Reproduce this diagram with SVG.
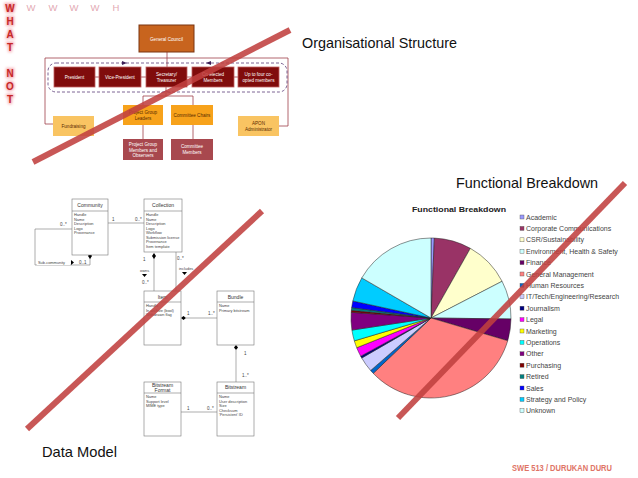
<svg xmlns="http://www.w3.org/2000/svg" width="638" height="478" viewBox="0 0 638 478">
<defs>
<style>
.lt{font-family:"Liberation Sans",Arial,sans-serif;font-weight:bold;fill:#c62828;font-size:10px;text-anchor:middle}
.lt2{font-family:"Liberation Sans",Arial,sans-serif;fill:#e3aab4;font-size:9.5px;text-anchor:middle}
.hd{font-family:"Liberation Sans",Arial,sans-serif;font-size:15px;fill:#111}
.ob{stroke-width:0.8}
.ot{font-family:"Liberation Sans",Arial,sans-serif;font-size:4.6px;text-anchor:middle;fill:#fff}
.otd{font-family:"Liberation Sans",Arial,sans-serif;font-size:4.6px;text-anchor:middle;fill:#5a2a00}
.cl{fill:none;stroke:#a0404a;stroke-width:0.8}
.ub{fill:#fff;stroke:#777;stroke-width:0.6}
.ut{font-family:"Liberation Sans",Arial,sans-serif;font-size:5px;text-anchor:middle;fill:#333}
.ua{font-family:"Liberation Sans",Arial,sans-serif;font-size:3.9px;fill:#444}
.ul{fill:none;stroke:#777;stroke-width:0.6}
.um{font-family:"Liberation Sans",Arial,sans-serif;font-size:4.5px;fill:#444}
.pie path{stroke:#222;stroke-width:0.5}
.lg{font-family:"Liberation Sans",Arial,sans-serif;font-size:7px;fill:#444}
.lgs{stroke:#555;stroke-width:0.4}
.strike{stroke:#c0403f;stroke-width:6;stroke-opacity:0.88}
</style>
<filter id="glow" x="-50%" y="-50%" width="200%" height="200%">
<feGaussianBlur stdDeviation="1.5"/>
</filter>
</defs>
<rect width="638" height="478" fill="#fff"/>

<g id="side-letters">
<g fill="#f4a0a8" filter="url(#glow)" font-family="Liberation Sans, Arial, sans-serif" font-size="10" font-weight="bold" text-anchor="middle" stroke="#f4a0a8" stroke-width="2">
<text x="10" y="11.5">W</text><text x="10" y="24.5">H</text><text x="10" y="37.5">A</text><text x="10" y="50.5">T</text>
<text x="10" y="76.5">N</text><text x="10" y="89.5">O</text><text x="10" y="102.5">T</text>
</g>
<text class="lt" x="10" y="11.5">W</text><text class="lt" x="10" y="24.5">H</text><text class="lt" x="10" y="37.5">A</text><text class="lt" x="10" y="50.5">T</text>
<text class="lt" x="10" y="76.5">N</text><text class="lt" x="10" y="89.5">O</text><text class="lt" x="10" y="102.5">T</text>
<text class="lt2" x="31" y="11">W</text><text class="lt2" x="53" y="11">W</text><text class="lt2" x="74" y="11">W</text><text class="lt2" x="95" y="11">W</text><text class="lt2" x="116" y="11">H</text>
</g>

<text class="hd" x="302" y="48" textLength="155" lengthAdjust="spacingAndGlyphs">Organisational Structure</text>
<text class="hd" x="456" y="188" textLength="142" lengthAdjust="spacingAndGlyphs">Functional Breakdown</text>
<text class="hd" x="42" y="457" textLength="75" lengthAdjust="spacingAndGlyphs">Data Model</text>
<text x="512" y="471" font-family="Liberation Sans, Arial, sans-serif" font-size="8.6" font-weight="bold" fill="#e07466" textLength="100" lengthAdjust="spacingAndGlyphs">SWE 513 / DURUKAN DURU</text>

<!-- Organisational chart -->
<g id="org-connectors">
<path class="cl" d="M53,124 H45 V58 H288 V126 H279"/>
<line class="cl" x1="167" y1="52" x2="167" y2="67"/>
<rect x="48" y="63" width="239" height="29" rx="8" fill="none" stroke="#5c3c78" stroke-width="0.8" stroke-dasharray="3,2"/>
<path d="M122,61 L127,63 L122,65 Z" fill="#3c2058"/>
<path d="M211,61 L206,63 L211,65 Z" fill="#3c2058"/>
<line class="cl" x1="95" y1="77" x2="99" y2="77"/>
<line class="cl" x1="141" y1="77" x2="146" y2="77"/>
<line class="cl" x1="187" y1="77" x2="192" y2="77"/>
<line class="cl" x1="234" y1="77" x2="238" y2="77"/>
<line class="cl" x1="166" y1="87" x2="166" y2="96"/>
<path d="M161,93 L166,91 L171,93" fill="none" stroke="#7a5aa0" stroke-width="0.8"/>
<path class="cl" d="M143,105 V96 H193 V105"/>
<line class="cl" x1="143" y1="125" x2="143" y2="139"/>
<line class="cl" x1="193" y1="125" x2="193" y2="139"/>
</g>
<g id="general-council"><rect x="139" y="25" width="55" height="27" fill="#c8641e" stroke="#7a3410" stroke-width="1"/><text class="ot" x="166.5" y="40.5" font-size="5.6">General Council</text></g>
<g id="president"><rect x="54" y="67" width="41" height="20" fill="#800c0c" stroke="#c06060" class="ob"/><text class="ot" x="74.5" y="78.5">President</text></g>
<g id="vice-president"><rect x="99" y="67" width="42" height="20" fill="#800c0c" stroke="#c06060" class="ob"/><text class="ot" x="120" y="78.5">Vice-President</text></g>
<g id="secretary"><rect x="146" y="67" width="41" height="20" fill="#800c0c" stroke="#c06060" class="ob"/><text class="ot" x="166.5" y="76">Secretary/</text><text class="ot" x="166.5" y="82">Treasurer</text></g>
<g id="co-elected"><rect x="192" y="67" width="42" height="20" fill="#800c0c" stroke="#c06060" class="ob"/><text class="ot" x="213" y="76">Co-elected</text><text class="ot" x="213" y="82">Members</text></g>
<g id="co-opted"><rect x="238" y="67" width="41" height="20" fill="#800c0c" stroke="#c06060" class="ob"/><text class="ot" x="258.5" y="76">Up to four co-</text><text class="ot" x="258.5" y="82">opted members</text></g>
<g id="project-group-leaders"><rect x="123" y="105" width="40" height="20" fill="#f7a21b"/><text class="otd" x="143" y="114">Project Group</text><text class="otd" x="143" y="120">Leaders</text></g>
<g id="committee-chairs"><rect x="171" y="105" width="42" height="20" fill="#f7a21b"/><text class="otd" x="192" y="116.5">Committee Chairs</text></g>
<g id="fundraising"><rect x="53" y="116" width="41" height="20" fill="#f9c462"/><text class="otd" x="73.5" y="127.5">Fundraising</text></g>
<g id="apon-administrator"><rect x="238" y="116" width="41" height="20" fill="#f9c462"/><text class="otd" x="258.5" y="125">APON</text><text class="otd" x="258.5" y="131">Administrator</text></g>
<g id="project-group-members"><rect x="123" y="139" width="40" height="21" fill="#a8484e"/><text class="ot" x="143" y="146">Project Group</text><text class="ot" x="143" y="151.5">Members and</text><text class="ot" x="143" y="157">Observers</text></g>
<g id="committee-members"><rect x="171" y="139" width="42" height="21" fill="#a8484e"/><text class="ot" x="192" y="148">Committee</text><text class="ot" x="192" y="154">Members</text></g>

<!-- Data model -->
<g id="uml-connectors">
<line class="ul" x1="108" y1="223" x2="144" y2="223"/>
<text class="um" x="112" y="221">1</text><text class="um" x="135" y="221">0..*</text>
<path class="ul" d="M72,229 H35 V265 H90 V258"/>
<path d="M90,253 L92,256 L90,259 L88,256 Z" fill="#000"/>
<text class="um" x="60" y="226">0..*</text>
<rect x="37" y="260" width="33" height="5" fill="#fff"/>
<text class="ua" x="38" y="264" font-size="4">Sub-community</text>
<path d="M71,260 L74,262.5 L71,265 Z" fill="#000"/>
<text class="um" x="79" y="264">0..1</text>
<path class="ul" d="M154,258 V291"/>
<path d="M154,253 L156,256 L154,259 L152,256 Z" fill="#000"/>
<text class="um" x="143" y="261">1</text>
<path class="ul" d="M176,252 V291"/>
<text class="um" x="177" y="260">0..*</text>
<text class="ua" x="140" y="272">owns</text>
<path d="M142,274 L147,274 L144.5,277 Z" fill="#000"/>
<text class="um" x="142" y="284">0..*</text>
<text class="ua" x="179" y="270">includes</text>
<path d="M182,272 L187,272 L184.5,275 Z" fill="#000"/>
<line class="ul" x1="186" y1="318" x2="217" y2="318"/>
<path d="M181,318 L183.5,316 L186,318 L183.5,320 Z" fill="#000"/>
<text class="um" x="187" y="315">1</text><text class="um" x="208" y="315">1..*</text>
<line class="ul" x1="236" y1="350" x2="236" y2="382"/>
<path d="M236,345 L238,347.5 L236,350 L234,347.5 Z" fill="#000"/>
<text class="um" x="244" y="355">1</text><text class="um" x="242" y="377">1..*</text>
<line class="ul" x1="181" y1="412" x2="217" y2="412"/>
<text class="um" x="187" y="410">1</text><text class="um" x="207" y="410">0..*</text>
</g>
<g id="community"><rect class="ub" x="72" y="199" width="36" height="56"/><line class="ul" x1="72" y1="211" x2="108" y2="211"/><text class="ut" x="90" y="207">Community</text>
<text class="ua" x="74" y="216">Handle</text><text class="ua" x="74" y="220.5">Name</text><text class="ua" x="74" y="225">Description</text><text class="ua" x="74" y="229.5">Logo</text><text class="ua" x="74" y="234">Provenance</text></g>
<g id="collection"><rect class="ub" x="144" y="199" width="38" height="53"/><line class="ul" x1="144" y1="211" x2="182" y2="211"/><text class="ut" x="163" y="207">Collection</text>
<text class="ua" x="146" y="216">Handle</text><text class="ua" x="146" y="220.5">Name</text><text class="ua" x="146" y="225">Description</text><text class="ua" x="146" y="229.5">Logo</text><text class="ua" x="146" y="234">Workflow</text><text class="ua" x="146" y="238.5">Submission license</text><text class="ua" x="146" y="243">Provenance</text><text class="ua" x="146" y="247.5">Item template</text></g>
<g id="item"><rect class="ub" x="144" y="291" width="37" height="54"/><line class="ul" x1="144" y1="302" x2="181" y2="302"/><text class="ut" x="162.5" y="299">Item</text>
<text class="ua" x="146" y="307">Handle</text><text class="ua" x="146" y="311.5">In archive (bool)</text><text class="ua" x="146" y="316">Withdrawn flag</text></g>
<g id="bundle"><rect class="ub" x="217" y="291" width="37" height="54"/><line class="ul" x1="217" y1="302" x2="254" y2="302"/><text class="ut" x="235.5" y="299">Bundle</text>
<text class="ua" x="219" y="307">Name</text><text class="ua" x="219" y="311.5">Primary bitstream</text></g>
<g id="bitstream-format"><rect class="ub" x="144" y="382" width="37" height="54"/><line class="ul" x1="144" y1="393" x2="181" y2="393"/><text class="ut" x="162.5" y="386.5">Bitstream</text><text class="ut" x="162.5" y="391.5">Format</text>
<text class="ua" x="146" y="398">Name</text><text class="ua" x="146" y="402.5">Support level</text><text class="ua" x="146" y="407">MIME type</text></g>
<g id="bitstream"><rect class="ub" x="217" y="382" width="37" height="54"/><line class="ul" x1="217" y1="393" x2="254" y2="393"/><text class="ut" x="235.5" y="389">Bitstream</text>
<text class="ua" x="219" y="398">Name</text><text class="ua" x="219" y="402.5">User description</text><text class="ua" x="219" y="407">Size</text><text class="ua" x="219" y="411.5">Checksum</text><text class="ua" x="219" y="416">'Persistent' ID</text></g>

<!-- Pie chart -->
<g id="pie-chart">
<text x="412" y="212" font-family="Liberation Sans, Arial, sans-serif" font-size="7.6" font-weight="bold" fill="#222" textLength="94" lengthAdjust="spacingAndGlyphs">Functional Breakdown</text>
<g class="pie">
<path d="M431,318 L431,238 A80,80 0 0 1 434.35,238.07 Z" fill="#9999ff"/>
<path d="M431,318 L434.35,238.07 A80,80 0 0 1 470.39,248.37 Z" fill="#993366"/>
<path d="M431,318 L470.39,248.37 A80,80 0 0 1 502.09,281.31 Z" fill="#ffffcc"/>
<path d="M431,318 L502.09,281.31 A80,80 0 0 1 510.99,318.98 Z" fill="#ccffff"/>
<path d="M431,318 L510.99,318.98 A80,80 0 0 1 507.71,340.72 Z" fill="#660066"/>
<path d="M431,318 L507.71,340.72 A80,80 0 0 1 373.23,373.34 Z" fill="#ff8080"/>
<path d="M431,318 L373.23,373.34 A80,80 0 0 1 370.62,370.48 Z" fill="#0066cc"/>
<path d="M431,318 L370.62,370.48 A80,80 0 0 1 361.72,358 Z" fill="#ccccff"/>
<path d="M431,318 L361.72,358 A80,80 0 0 1 360.69,356.17 Z" fill="#000080"/>
<path d="M431,318 L360.69,356.17 A80,80 0 0 1 356.72,347.71 Z" fill="#ff00ff"/>
<path d="M431,318 L356.72,347.71 A80,80 0 0 1 354.33,340.86 Z" fill="#ffff00"/>
<path d="M431,318 L354.33,340.86 A80,80 0 0 1 351.92,330.10 Z" fill="#00ffff"/>
<path d="M431,318 L351.92,330.10 A80,80 0 0 1 351.20,312.28 Z" fill="#800080"/>
<path d="M431,318 L351.20,312.28 A80,80 0 0 1 351.37,310.33 Z" fill="#800000"/>
<path d="M431,318 L351.37,310.33 A80,80 0 0 1 351.68,307.56 Z" fill="#008080"/>
<path d="M431,318 L351.68,307.56 A80,80 0 0 1 352.84,300.96 Z" fill="#0000ff"/>
<path d="M431,318 L352.84,300.96 A80,80 0 0 1 361.79,277.88 Z" fill="#00ccff"/>
<path d="M431,318 L361.79,277.88 A80,80 0 0 1 431,238 Z" fill="#ccffff"/>
</g>
<g id="legend">
<rect class="lgs" x="520" y="215" width="4" height="4" fill="#9999ff"/><text class="lg" x="526" y="219.5">Academic</text>
<rect class="lgs" x="520" y="226.4" width="4" height="4" fill="#993366"/><text class="lg" x="526" y="230.9">Corporate Communications</text>
<rect class="lgs" x="520" y="237.8" width="4" height="4" fill="#ffffcc"/><text class="lg" x="526" y="242.3">CSR/Sustainability</text>
<rect class="lgs" x="520" y="249.2" width="4" height="4" fill="#ccffff"/><text class="lg" x="526" y="253.7">Environment, Health &amp; Safety</text>
<rect class="lgs" x="520" y="260.6" width="4" height="4" fill="#660066"/><text class="lg" x="526" y="265.1">Finance</text>
<rect class="lgs" x="520" y="272" width="4" height="4" fill="#ff8080"/><text class="lg" x="526" y="276.5">General Management</text>
<rect class="lgs" x="520" y="283.4" width="4" height="4" fill="#0066cc"/><text class="lg" x="526" y="287.9">Human Resources</text>
<rect class="lgs" x="520" y="294.8" width="4" height="4" fill="#ccccff"/><text class="lg" x="526" y="299.3" textLength="93" lengthAdjust="spacingAndGlyphs">IT/Tech/Engineering/Research</text>
<rect class="lgs" x="520" y="306.2" width="4" height="4" fill="#000080"/><text class="lg" x="526" y="310.7">Journalism</text>
<rect class="lgs" x="520" y="317.6" width="4" height="4" fill="#ff00ff"/><text class="lg" x="526" y="322.1">Legal</text>
<rect class="lgs" x="520" y="329" width="4" height="4" fill="#ffff00"/><text class="lg" x="526" y="333.5">Marketing</text>
<rect class="lgs" x="520" y="340.4" width="4" height="4" fill="#00ffff"/><text class="lg" x="526" y="344.9">Operations</text>
<rect class="lgs" x="520" y="351.8" width="4" height="4" fill="#800080"/><text class="lg" x="526" y="356.3">Other</text>
<rect class="lgs" x="520" y="363.2" width="4" height="4" fill="#800000"/><text class="lg" x="526" y="367.7">Purchasing</text>
<rect class="lgs" x="520" y="374.6" width="4" height="4" fill="#008080"/><text class="lg" x="526" y="379.1">Retired</text>
<rect class="lgs" x="520" y="386" width="4" height="4" fill="#0000ff"/><text class="lg" x="526" y="390.5">Sales</text>
<rect class="lgs" x="520" y="397.4" width="4" height="4" fill="#00ccff"/><text class="lg" x="526" y="401.9">Strategy and Policy</text>
<rect class="lgs" x="520" y="408.8" width="4" height="4" fill="#ccffff"/><text class="lg" x="526" y="413.3">Unknown</text>
</g>
</g>

<g id="strikes">
<line class="strike" x1="33" y1="162" x2="290" y2="30"/>
<line class="strike" x1="262" y1="211" x2="27" y2="429"/>
<line class="strike" x1="625" y1="183" x2="398" y2="418"/>
</g>
</svg>
